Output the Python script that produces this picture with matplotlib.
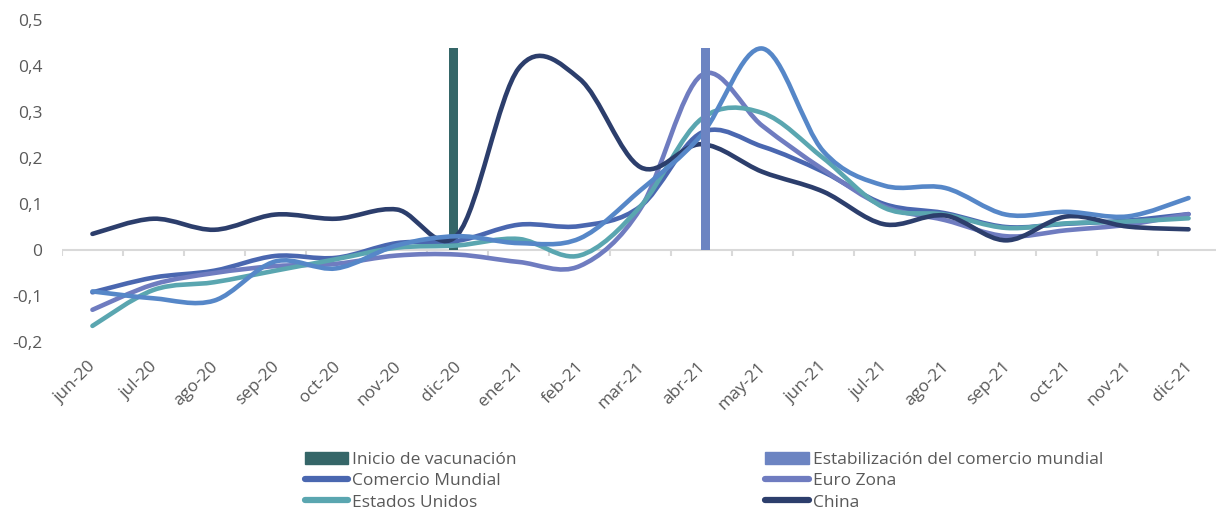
import numpy as np
import matplotlib
matplotlib.use('Agg')
import matplotlib.pyplot as plt
from matplotlib.path import Path
from matplotlib.patches import PathPatch, Patch
from matplotlib.lines import Line2D
from matplotlib.transforms import ScaledTranslation

plt.rcParams['font.family'] = ['Open Sans', 'DejaVu Sans']

months = ['jun-20', 'jul-20', 'ago-20', 'sep-20', 'oct-20', 'nov-20', 'dic-20',
          'ene-21', 'feb-21', 'mar-21', 'abr-21', 'may-21', 'jun-21', 'jul-21',
          'ago-21', 'sep-21', 'oct-21', 'nov-21', 'dic-21']

comercio_mundial = [-0.092, -0.060, -0.045, -0.013, -0.017, 0.015, 0.020, 0.055, 0.052,
                    0.095, 0.255, 0.225, 0.170, 0.100, 0.080, 0.050, 0.057, 0.064, 0.078]
euro_zona = [-0.130, -0.075, -0.050, -0.035, -0.030, -0.012, -0.010, -0.026, -0.035,
             0.090, 0.380, 0.270, 0.175, 0.095, 0.065, 0.030, 0.043, 0.055, 0.078]
estados_unidos = [-0.165, -0.087, -0.070, -0.045, -0.020, 0.005, 0.010, 0.024, -0.012,
                  0.095, 0.285, 0.298, 0.200, 0.092, 0.077, 0.048, 0.058, 0.062, 0.069]
china = [0.035, 0.068, 0.044, 0.077, 0.068, 0.088, 0.034, 0.395, 0.372,
         0.180, 0.230, 0.170, 0.127, 0.056, 0.075, 0.021, 0.073, 0.051, 0.045]
serie_5 = [-0.090, -0.105, -0.110, -0.025, -0.040, 0.010, 0.030, 0.015, 0.025,
           0.130, 0.250, 0.438, 0.215, 0.140, 0.135, 0.077, 0.083, 0.073, 0.113]

# vertical markers (column series)
vacunacion = {'dic-20': 0.44}
estabilizacion = {'abr-21': 0.44}

text_color = '#595959'


def smooth_path(x, y):
    # excel-like smoothed line: cubic bezier through each point (catmull-rom)
    pts = np.column_stack([x, y]).astype(float)
    n = len(pts)
    verts = [pts[0]]
    codes = [Path.MOVETO]
    for i in range(n - 1):
        p0 = pts[i - 1] if i > 0 else pts[i]
        p1 = pts[i]
        p2 = pts[i + 1]
        p3 = pts[i + 2] if i + 2 < n else pts[i + 1]
        c1 = p1 + (p2 - p0) / 6.0
        c2 = p2 - (p3 - p1) / 6.0
        verts += [c1, c2, p2]
        codes += [Path.CURVE4] * 3
    return Path(verts, codes)


fig = plt.figure(figsize=(12.16, 5.13), dpi=100)
ax = fig.add_axes([62 / 1216, 171 / 513, 1157 / 1216, 322 / 513])

x = np.arange(len(months))
bar_w = 0.14
# vacunacion sits behind the lines, estabilizacion in front (secondary axis in the original)
ax.bar([months.index(k) - 0.07 for k in vacunacion], list(vacunacion.values()),
       width=bar_w, color='#356668', zorder=2)
ax.bar([months.index(k) + 0.07 for k in estabilizacion], list(estabilizacion.values()),
       width=bar_w, color='#6c84c2', zorder=20)

series = [
    ('Comercio Mundial', comercio_mundial, '#4a67b0'),
    ('Euro Zona', euro_zona, '#6f7cc0'),
    ('Estados Unidos', estados_unidos, '#5aa6b0'),
    ('China', china, '#2c3e6c'),
    (None, serie_5, '#5687c8'),
]
for i, (name, vals, col) in enumerate(series):
    patch = PathPatch(smooth_path(x, vals), fill=False, edgecolor=col, lw=3.3,
                      capstyle='round', joinstyle='round', zorder=4 + i)
    ax.add_patch(patch)

# category axis at zero
ax.axhline(0, color='#d9d9d9', lw=1.5, zorder=1)
ax.vlines(np.arange(len(months) + 1) - 0.5, -0.013, 0, color='#d9d9d9', lw=1.5, zorder=1)

ax.set_xlim(-0.5, len(months) - 0.5)
ax.set_ylim(-0.2, 0.5)
ax.set_yticks(np.arange(-0.2, 0.51, 0.1))
ax.set_yticklabels(['0' if abs(v) < 1e-9 else f'{v:.1f}'.replace('.', ',')
                    for v in np.arange(-0.2, 0.51, 0.1)])
ax.set_xticks(x)
ax.set_xticklabels(months, rotation=45, ha='right', rotation_mode='anchor')
ax.tick_params(axis='both', length=0, colors=text_color, labelsize=12.5)
ax.tick_params(axis='y', pad=14)
ax.tick_params(axis='x', pad=12)
shift = ScaledTranslation(-4 / 100, 0, fig.dpi_scale_trans)
for lab in ax.get_xticklabels():
    lab.set_transform(lab.get_transform() + shift)
for s in ax.spines.values():
    s.set_visible(False)

handles = [
    Patch(color='#356668'),
    Line2D([], [], color='#4a67b0', lw=4.5, solid_capstyle='round'),
    Line2D([], [], color='#5aa6b0', lw=4.5, solid_capstyle='round'),
    Patch(color='#6c84c2'),
    Line2D([], [], color='#6f7cc0', lw=4.5, solid_capstyle='round'),
    Line2D([], [], color='#2c3e6c', lw=4.5, solid_capstyle='round'),
]
labels = ['Inicio de vacunación', 'Comercio Mundial', 'Estados Unidos',
          'Estabilización del comercio mundial', 'Euro Zona', 'China']
fig.legend(handles, labels, ncol=2, loc='upper left', bbox_to_anchor=(296 / 1216, 1 - 443 / 513),
           frameon=False, fontsize=12.5, labelcolor=text_color, handlelength=2.5,
           handletextpad=0.25, labelspacing=0.3, columnspacing=14.3, borderpad=0)

fig.savefig('out.png', dpi=100)
